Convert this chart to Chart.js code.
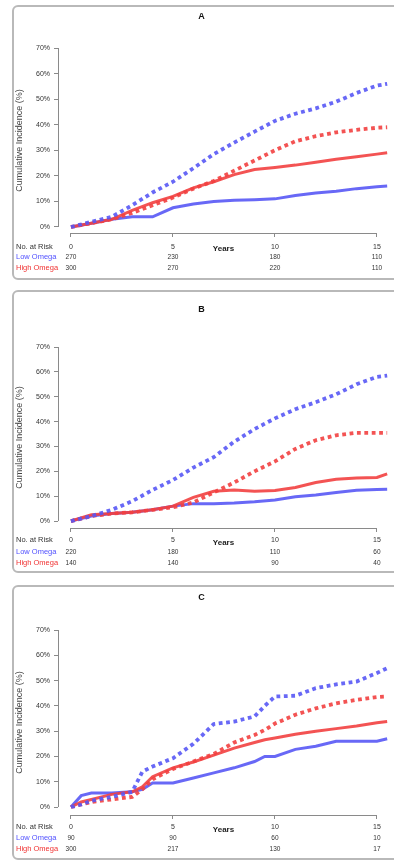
<!DOCTYPE html>
<html><head><meta charset="utf-8">
<script src="https://cdn.jsdelivr.net/npm/chart.js@4.4.1/dist/chart.umd.min.js"></script>
<style>
html,body{margin:0;padding:0;background:#fff;overflow:hidden;}
.panel{position:absolute;left:12px;width:430px;box-sizing:border-box;border:2px solid #b9b9b9;border-radius:6px;background:#fff;overflow:hidden;}
.panel canvas{position:absolute;left:0;top:0;}
</style></head><body>
<div class="panel" style="top:5px;height:275px"><canvas id="cA" width="380" height="271"></canvas></div>
<div class="panel" style="top:290px;height:283px"><canvas id="cB" width="380" height="279"></canvas></div>
<div class="panel" style="top:585px;height:275px"><canvas id="cC" width="380" height="271"></canvas></div>
<script>
// ---- data ----
const yTickValues = [0, 10, 20, 30, 40, 50, 60, 70];
const xTickValues = [0, 5, 10, 15];
const riskRowNames = ['No. at Risk', 'Low Omega', 'High Omega'];
const seriesNames = ['Low Omega (dotted)', 'High Omega (dotted)', 'High Omega', 'Low Omega'];

const yearsA = [0, 1, 2, 3, 4, 5, 6, 7, 8, 9, 10, 11, 12, 13, 14, 15, 15.5];
const lowDottedA = [0, 2, 4, 8.5, 13.5, 17.7, 23, 28.5, 33, 37.3, 41.5, 44.3, 46.4, 49, 52.4, 55.3, 56];
const highDottedA = [0, 1.5, 3, 5.5, 8.5, 11.5, 15, 18, 22, 26, 30, 33.5, 35.5, 37, 38, 38.8, 39];
const highSolidA = [0, 1.5, 3, 6.5, 9.5, 12, 15.3, 17.7, 20.5, 22.5, 23.3, 24.2, 25.3, 26.5, 27.5, 28.5, 29];
const lowSolidA = [0, 1.5, 3, 4, 4, 7.5, 9, 10, 10.5, 10.7, 11, 12.3, 13.3, 14, 15, 15.7, 16];
const riskLowA = [270, 230, 180, 110];
const riskHighA = [300, 270, 220, 110];

const yearsB = [0, 1, 2, 3, 4, 5, 6, 7, 8, 9, 10, 11, 12, 13, 14, 15, 15.5];
const lowDottedB = [0, 2, 4.5, 8, 12.5, 16.5, 21.5, 25.7, 31.9, 37, 41.3, 45, 47.8, 51, 55, 58, 58.5];
const highDottedB = [0, 2, 3, 3.5, 4.5, 5.5, 7.5, 11.5, 15.5, 20, 24, 29, 32.5, 34.5, 35.5, 35.5, 35.5];
const highSolidB = [0, 2.5, 3, 3.5, 4.5, 6, 9.5, 12, 12.5, 12, 12.3, 13.5, 15.5, 16.8, 17.3, 17.5, 19];
const lowSolidB = [0, 2, 3, 3.5, 4.5, 6, 7, 7, 7.3, 7.8, 8.5, 9.8, 10.5, 11.5, 12.4, 12.7, 12.8];
const riskLowB = [220, 180, 110, 60];
const riskHighB = [140, 140, 90, 40];

const yearsC = [0, 0.5, 1, 2, 3, 3.5, 4, 5, 6, 7, 8, 9, 9.5, 10, 11, 12, 13, 14, 15, 15.5];
const lowDottedC = [0, 1, 2.5, 4, 6, 14, 16, 19.3, 25, 32.8, 33.8, 35.8, 40, 43.7, 44, 47, 48.5, 49.6, 53, 54.9];
const highDottedC = [0, 1, 2, 3, 4, 7, 11, 15, 18, 21, 25.5, 28.5, 30.5, 33, 36.5, 39, 41, 42.4, 43.5, 43.7];
const highSolidC = [0, 2, 3, 5, 6, 8, 12, 15.5, 17.8, 20.5, 23.3, 25.5, 26.6, 27.3, 28.8, 30, 31, 32, 33.3, 33.8];
const lowSolidC = [0, 4.5, 5.5, 5.5, 6, 7, 9.5, 9.5, 11.5, 13.5, 15.5, 18, 20, 20, 22.8, 24, 26, 26, 26, 27];
const riskLowC = [90, 90, 60, 10];
const riskHighC = [300, 217, 130, 17];

// ---- styles ----
const BLUE = 'rgba(88,88,245,0.9)';
const RED = 'rgba(242,64,64,0.9)';
const TEXT = '#333';
const AXIS = '#8a8a8a';
const FONT = "'Liberation Sans', Arial, sans-serif";

const riskPlugin = {
  id: 'risk',
  afterDraw(chart, args, o) {
    const {ctx, chartArea} = chart;
    const x = chart.scales.x, y = chart.scales.y;
    ctx.save();
    ctx.strokeStyle = AXIS; ctx.lineWidth = 1;
    ctx.beginPath();
    const yb = Math.round(chartArea.bottom) + 0.5;
    ctx.moveTo(x.getPixelForValue(xTickValues[0]), yb);
    ctx.lineTo(x.getPixelForValue(xTickValues[xTickValues.length - 1]), yb);
    const xl = Math.round(chartArea.left) + 0.5;
    ctx.moveTo(xl, y.getPixelForValue(yTickValues[0]));
    ctx.lineTo(xl, y.getPixelForValue(yTickValues[yTickValues.length - 1]));
    ctx.stroke();
    // risk table
    const colors = [TEXT, 'rgb(80,80,255)', 'rgb(240,50,50)'];
    ctx.textBaseline = 'middle';
    riskRowNames.forEach((name, r) => {
      const yy = chartArea.bottom + o.rowOffsets[r];
      ctx.font = '7.5px ' + FONT;
      ctx.fillStyle = colors[r];
      ctx.textAlign = 'left';
      ctx.fillText(name, 2, yy);
      if (r > 0) {
        const vals = o.rows[r - 1];
        ctx.font = '6.5px ' + FONT;
        ctx.fillStyle = TEXT;
        ctx.textAlign = 'center';
        vals.forEach((v, i) => ctx.fillText(String(v), x.getPixelForValue(xTickValues[i]), yy));
      }
    });
    ctx.restore();
  }
};

function series(years, vals) { return years.map((t, i) => ({x: t, y: vals[i]})); }

function makePanel(id, letter, years, lowDot, highDot, highSolid, lowSolid, riskLow, riskHigh, L) {
  const dotted = {borderWidth: 3.8, borderDash: [3.8, 3.6], borderCapStyle: 'butt', pointRadius: 0, tension: 0, clip: false};
  const solid = {borderWidth: 3, pointRadius: 0, tension: 0, clip: false};
  new Chart(document.getElementById(id), {
    type: 'line',
    data: {
      datasets: [
        Object.assign({label: seriesNames[0], data: series(years, lowDot), borderColor: BLUE}, dotted),
        Object.assign({label: seriesNames[1], data: series(years, highDot), borderColor: RED}, dotted),
        Object.assign({label: seriesNames[2], data: series(years, highSolid), borderColor: RED}, solid),
        Object.assign({label: seriesNames[3], data: series(years, lowSolid), borderColor: BLUE}, solid)
      ]
    },
    plugins: [riskPlugin],
    options: {
      responsive: false, animation: false, devicePixelRatio: 1,
      layout: {padding: {left: 0, right: 5, top: 0, bottom: 0}},
      plugins: {
        legend: {display: false}, tooltip: {enabled: false},
        title: {display: true, text: letter, color: '#111', font: {family: FONT, size: 9, weight: 'bold'},
                padding: {top: L.titleTop, bottom: L.titleBottom}},
        risk: {rows: [riskLow, riskHigh], rowOffsets: L.rowOffsets}
      },
      scales: {
        x: {
          type: 'linear', min: -0.637, max: 15.59,
          afterBuildTicks: s => { s.ticks = xTickValues.map(v => ({value: v})); },
          afterFit: s => { s.height = L.xHeight; },
          border: {display: false},
          grid: {drawOnChartArea: false, drawTicks: true, tickLength: 4, color: AXIS},
          ticks: {color: TEXT, font: {family: FONT, size: 7}, padding: L.xPad, maxRotation: 0, autoSkip: false},
          title: {display: true, text: 'Years', color: '#222', font: {family: FONT, size: 8, weight: 'bold'},
                  padding: {top: 0, bottom: L.yearsBottom}}
        },
        y: {
          type: 'linear', min: L.yMin, max: 70,
          afterBuildTicks: s => { s.ticks = yTickValues.map(v => ({value: v})); },
          afterFit: s => { s.width = 44; },
          border: {display: false},
          grid: {drawOnChartArea: false, drawTicks: true, tickLength: 4, color: AXIS},
          ticks: {color: TEXT, font: {family: FONT, size: 7}, padding: 4, callback: v => v + '%'},
          title: {display: true, text: 'Cumulative Incidence (%)', color: '#444', font: {family: FONT, size: 9},
                  padding: {top: 0, bottom: 0}}
        }
      }
    }
  });
}

makePanel('cA', 'A', yearsA, lowDottedA, highDottedA, highSolidA, lowSolidA, riskLowA, riskHighA,
  {titleTop: 4.6, titleBottom: 25.6, yMin: -2.35, xHeight: 45, xPad: 6, yearsBottom: 24.2, rowOffsets: [14, 24, 35]});
makePanel('cB', 'B', yearsB, lowDottedB, highDottedB, highSolidB, lowSolidB, riskLowB, riskHighB,
  {titleTop: 12.6, titleBottom: 31.6, yMin: -2.8, xHeight: 43, xPad: 4, yearsBottom: 23.2, rowOffsets: [12, 24, 35]});
makePanel('cC', 'C', yearsC, lowDottedC, highDottedC, highSolidC, lowSolidC, riskLowC, riskHighC,
  {titleTop: 5.6, titleBottom: 26.6, yMin: -3.16, xHeight: 43, xPad: 4, yearsBottom: 23.2, rowOffsets: [12, 23, 34]});
</script>
</body></html>
